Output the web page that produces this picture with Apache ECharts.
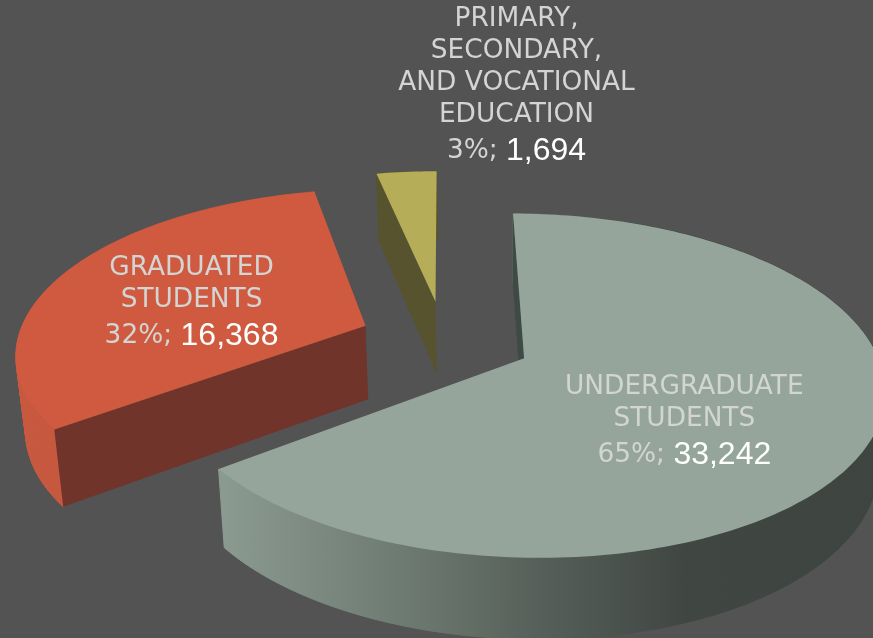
<!DOCTYPE html>
<html><head><meta charset="utf-8">
<style>html,body{margin:0;padding:0;background:#535353}#c{width:873px;height:638px}</style>
<script src="https://cdn.jsdelivr.net/npm/echarts@6/dist/echarts.min.js"></script>
</head><body><div id="c"></div>
<script>
// DATA
var categories = ['UNDERGRADUATE\nSTUDENTS', 'GRADUATED\nSTUDENTS', 'PRIMARY,\nSECONDARY,\nAND VOCATIONAL\nEDUCATION'];
var values = [33242, 16368, 1694];
var topColors = ['#95a59b', '#d05a40', '#b5ad58'];
var cutColors = ['#3e4a46', '#71342a', '#57532f'];

// View of the tilted disc
var OX = 444, OY = 339.5, R = 348, TILT = 0.465, PERSP = 0.157, SINK = 0.02, VANISH_X = 500, THICK = 74;
var explodeBy = [88, 85, 85];
var labelPlace = [{ d: 167, dx: 0, dy: 28 }, { d: 197, dx: 0, dy: 9 }, { d: 0, dx: 81, dy: -214 }];
var total = values.reduce(function (a, b) { return a + b; }, 0);

function project(U, V, low) {
  var w = 1 + PERSP * V / R;
  var x = OX + U / w;
  var y = OY - TILT * V / w;
  if (low) {
    x += (VANISH_X - x) * SINK;
    y += THICK / Math.sqrt(w);
  }
  return [x, y];
}
function arcPts(cu, cv, a0, a1, low) {
  var pts = [], n = Math.max(4, Math.ceil((a1 - a0) / 0.02));
  for (var i = 0; i <= n; i++) {
    var a = a0 + (a1 - a0) * i / n;
    pts.push(project(cu + R * Math.sin(a), cv + R * Math.cos(a), low));
  }
  return pts;
}
function poly(points, fill, edge) {
  return { type: 'polygon', shape: { points: points }, style: { fill: fill, stroke: edge || null, lineWidth: edge ? 1 : 0 } };
}
var wallStops = [
  [{ offset: 0, color: '#8c9b91' }, { offset: 0.28, color: '#6d7a72' }, { offset: 0.5, color: '#545d57' },
   { offset: 0.7, color: '#404743' }, { offset: 1, color: '#3e4541' }],
  [{ offset: 0, color: '#c8593f' }, { offset: 1, color: '#bd553c' }],
  [{ offset: 0, color: '#57532f' }, { offset: 1, color: '#57532f' }]
];

function renderItem(params, api) {
  var i = params.dataIndex, before = 0;
  for (var k = 0; k < i; k++) before += values[k];
  var a0 = before / total * Math.PI * 2, a1 = (before + values[i]) / total * Math.PI * 2, mid = (a0 + a1) / 2;
  var cu = explodeBy[i] * Math.sin(mid), cv = explodeBy[i] * Math.cos(mid);
  var topArc = arcPts(cu, cv, a0, a1, false), lowArc = arcPts(cu, cv, a0, a1, true);
  var apexT = project(cu, cv, false), apexB = project(cu, cv, true);
  var pct = Math.round(values[i] / total * 100);
  var num = values[i].toLocaleString('en-US');
  var place = labelPlace[i];
  var lp = project(cu + place.d * Math.sin(mid), cv + place.d * Math.cos(mid), false);
  var nameText = categories[i].split('\n').map(function (s) { return '{n|' + s + '}'; }).join('\n');
  var xs = topArc.map(function (p) { return p[0]; });
  var grad = { type: 'linear', global: true, x: Math.min.apply(null, xs), y: 0, x2: Math.max.apply(null, xs), y2: 0, colorStops: wallStops[i] };
  var children = [];
  for (var s = 0; s < topArc.length - 1; s++) {
    children.push(poly([topArc[s], topArc[s + 1], lowArc[s + 1], lowArc[s]], grad, grad));
  }
  children.push(poly([apexT, topArc[0], lowArc[0], apexB], cutColors[i]));
  children.push(poly([apexT].concat(topArc), topColors[i]));
  children.push({
    type: 'text', z2: 10,
    style: {
      x: lp[0] + place.dx, y: lp[1] + place.dy, align: 'center', verticalAlign: 'middle',
      text: nameText + '\n{p|' + pct + '%; }{v|' + num + '}',
      rich: {
        n: { fontFamily: 'DejaVu Sans', fontSize: 26.4, lineHeight: 32, fill: '#d2d5d3', align: 'center' },
        p: { fontFamily: 'DejaVu Sans', fontSize: 26.4, lineHeight: 40, fill: '#d2d5d3' },
        v: { fontFamily: 'Liberation Sans', fontSize: 32, lineHeight: 40, fill: '#ffffff' }
      }
    }
  });
  return { type: 'group', children: children };
}
var chart = echarts.init(document.getElementById('c'), null, { renderer: 'canvas' });
chart.setOption({
  backgroundColor: '#535353',
  animation: false,
  series: [{ type: 'custom', coordinateSystem: 'none', renderItem: renderItem, clip: false,
    data: values.map(function (v, i) { return { name: categories[i], value: v }; }) }]
});
</script></body></html>
